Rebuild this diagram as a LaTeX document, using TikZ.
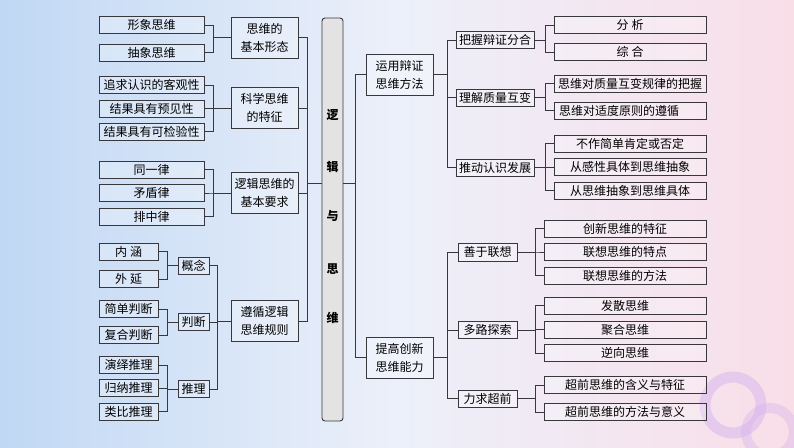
\documentclass[tikz,border=0pt]{standalone}
\usepackage{fontspec}
\newfontfamily\cjk{Noto Sans CJK SC}
\usetikzlibrary{calc}
\definecolor{bgl}{RGB}{192,216,244}
\definecolor{bgm}{RGB}{236,240,250}
\definecolor{bgr}{RGB}{249,222,232}
\definecolor{lnc}{RGB}{55,55,60}
\definecolor{ring}{RGB}{214,180,238}
\tikzset{
  bx/.style={draw=lnc, line width=0.9pt, fill=white, fill opacity=0.25, text opacity=1, inner sep=0pt, align=center, font=\cjk\fontsize{12}{18}\selectfont},
  tallbox/.style={draw=lnc, line width=0.9pt, fill=gray!22, rounded corners=3pt, inner sep=0pt, minimum width=21pt, minimum height=403pt},
  conn/.style={draw=lnc, line width=0.8pt}
}
\newcommand{\bxat}[6]{\node[bx, minimum width=#4pt, minimum height=#5pt] (#1) at (#2,#3) {#6};}
\begin{document}
\begin{tikzpicture}[x=1pt,y=-1pt]
\useasboundingbox (0,0) rectangle (794,447);
\shade[left color=bgl, right color=bgr, middle color=bgm] (0,0) rectangle (794,447);
% decorative rings
\draw[ring, opacity=0.5, line width=11pt] (733,405) circle (28);
\draw[ring, opacity=0.4, line width=10pt] (770,432) circle (24);
% left column
\bxat{a1}{151.5}{25}{105}{17}{形象思维}
\bxat{a2}{151.5}{52.5}{105}{17}{抽象思维}
\bxat{b1}{151.5}{85}{105}{17}{追求认识的客观性}
\bxat{b2}{151.5}{108.5}{105}{17}{结果具有预见性}
\bxat{b3}{151.5}{131.5}{105}{17}{结果具有可检验性}
\bxat{c1}{151.5}{169.5}{105}{17}{同一律}
\bxat{c2}{151.5}{193}{105}{17}{矛盾律}
\bxat{c3}{151.5}{216.5}{105}{17}{排中律}
\bxat{d1}{128.5}{251.5}{59}{17}{内\hspace{3pt}涵}
\bxat{d2}{128.5}{279}{59}{17}{外\hspace{3pt}延}
\bxat{e1}{128.5}{309}{59}{17}{简单判断}
\bxat{e2}{128.5}{335}{59}{17}{复合判断}
\bxat{f1}{128.5}{365}{59}{17}{演绎推理}
\bxat{f2}{128.5}{388}{59}{17}{归纳推理}
\bxat{f3}{128.5}{411.5}{59}{17}{类比推理}
\bxat{g1}{193.5}{265.5}{31}{17}{概念}
\bxat{g2}{193.5}{322}{31}{17}{判断}
\bxat{g3}{193.5}{389}{31}{17}{推理}
% second column
\bxat{A}{264.5}{37.5}{67}{41}{思维的\\基本形态}
\bxat{B}{264.5}{108}{67}{41}{科学思维\\的特征}
\bxat{C}{264.5}{193}{67}{41}{逻辑思维的\\基本要求}
\bxat{D}{264.5}{321}{67}{41}{遵循逻辑\\思维规则}
% central
\node[tallbox] (T) at (332.5,219.5) {};
\foreach \ch/\yy in {逻/115,辑/167,与/216,思/269,维/318}
  \node[font=\cjk\bfseries\fontsize{12}{14}\selectfont, inner sep=0pt] at (332.5,\yy) {\ch};
\coordinate (TL) at ([yshift=36.5pt]T.west);
\coordinate (TR) at ([yshift=36.5pt]T.east);
% third column
\bxat{M1}{399.5}{74.5}{67}{41}{运用辩证\\思维方法}
\bxat{M2}{399.5}{357.5}{67}{41}{提高创新\\思维能力}
% fourth column
\bxat{P1}{495}{40}{78}{17}{把握辩证分合}
\bxat{P2}{495}{97.5}{78}{17}{理解质量互变}
\bxat{P3}{495}{167.5}{78}{17}{推动认识发展}
\bxat{Q1}{487.5}{252}{59}{18}{善于联想}
\bxat{Q2}{487.5}{330}{59}{17}{多路探索}
\bxat{Q3}{487.5}{398.5}{59}{17}{力求超前}
% right column
\bxat{R1}{630}{25}{152}{17}{分\hspace{3pt}析}
\bxat{R2}{630}{52}{152}{17}{综\hspace{3pt}合}
\bxat{R3}{630}{83.5}{152}{17}{思维对质量互变规律的把握}
\bxat{R4}{630}{110.5}{152}{17}{\makebox[142pt][l]{思维对适度原则的遵循}}
\bxat{R5}{630}{143.5}{152}{17}{不作简单肯定或否定}
\bxat{R6}{630}{167}{152}{17}{从感性具体到思维抽象}
\bxat{R7}{630}{190.5}{152}{17}{从思维抽象到思维具体}
\bxat{S1}{625}{228.5}{162}{17}{创新思维的特征}
\bxat{S2}{625}{252}{162}{17}{联想思维的特点}
\bxat{S3}{625}{275.5}{162}{17}{联想思维的方法}
\bxat{S4}{625}{305.5}{162}{17}{发散思维}
\bxat{S5}{625}{329.5}{162}{17}{聚合思维}
\bxat{S6}{625}{353}{162}{17}{逆向思维}
\bxat{S7}{625}{385}{162}{17}{超前思维的含义与特征}
\bxat{S8}{625}{412}{162}{17}{超前思维的方法与意义}
% connectors, left side
\foreach \c in {a1,a2} \draw[conn] (A.west) -- ++(-17,0) |- (\c.east);
\foreach \c in {b1,b2,b3} \draw[conn] (B.west) -- ++(-17,0) |- (\c.east);
\foreach \c in {c1,c2,c3} \draw[conn] (C.west) -- ++(-17,0) |- (\c.east);
\foreach \c in {d1,d2} \draw[conn] (g1.west) -- ++(-10,0) |- (\c.east);
\foreach \c in {e1,e2} \draw[conn] (g2.west) -- ++(-10,0) |- (\c.east);
\foreach \c in {f1,f2,f3} \draw[conn] (g3.west) -- ++(-10,0) |- (\c.east);
\foreach \c in {g1,g2,g3} \draw[conn] (D.west) -- ++(-13,0) |- (\c.east);
\foreach \c in {A,B,C,D} \draw[conn] (TL) -- ++(-14,0) |- (\c.east);
% connectors, right side
\foreach \c in {M1,M2} \draw[conn] (TR) -- ++(12,0) |- (\c.west);
\foreach \c in {P1,P2,P3} \draw[conn] (M1.east) -- ++(14,0) |- (\c.west);
\foreach \c in {Q1,Q2,Q3} \draw[conn] (M2.east) -- ++(14,0) |- (\c.west);
\foreach \c in {R1,R2} \draw[conn] (P1.east) -- ++(11,0) |- (\c.west);
\foreach \c in {R3,R4} \draw[conn] (P2.east) -- ++(11,0) |- (\c.west);
\foreach \c in {R5,R6,R7} \draw[conn] (P3.east) -- ++(11,0) |- (\c.west);
\foreach \c in {S1,S2,S3} \draw[conn] (Q1.east) -- ++(18,0) |- (\c.west);
\foreach \c in {S4,S5,S6} \draw[conn] (Q2.east) -- ++(18,0) |- (\c.west);
\foreach \c in {S7,S8} \draw[conn] (Q3.east) -- ++(18,0) |- (\c.west);
\end{tikzpicture}
\end{document}
